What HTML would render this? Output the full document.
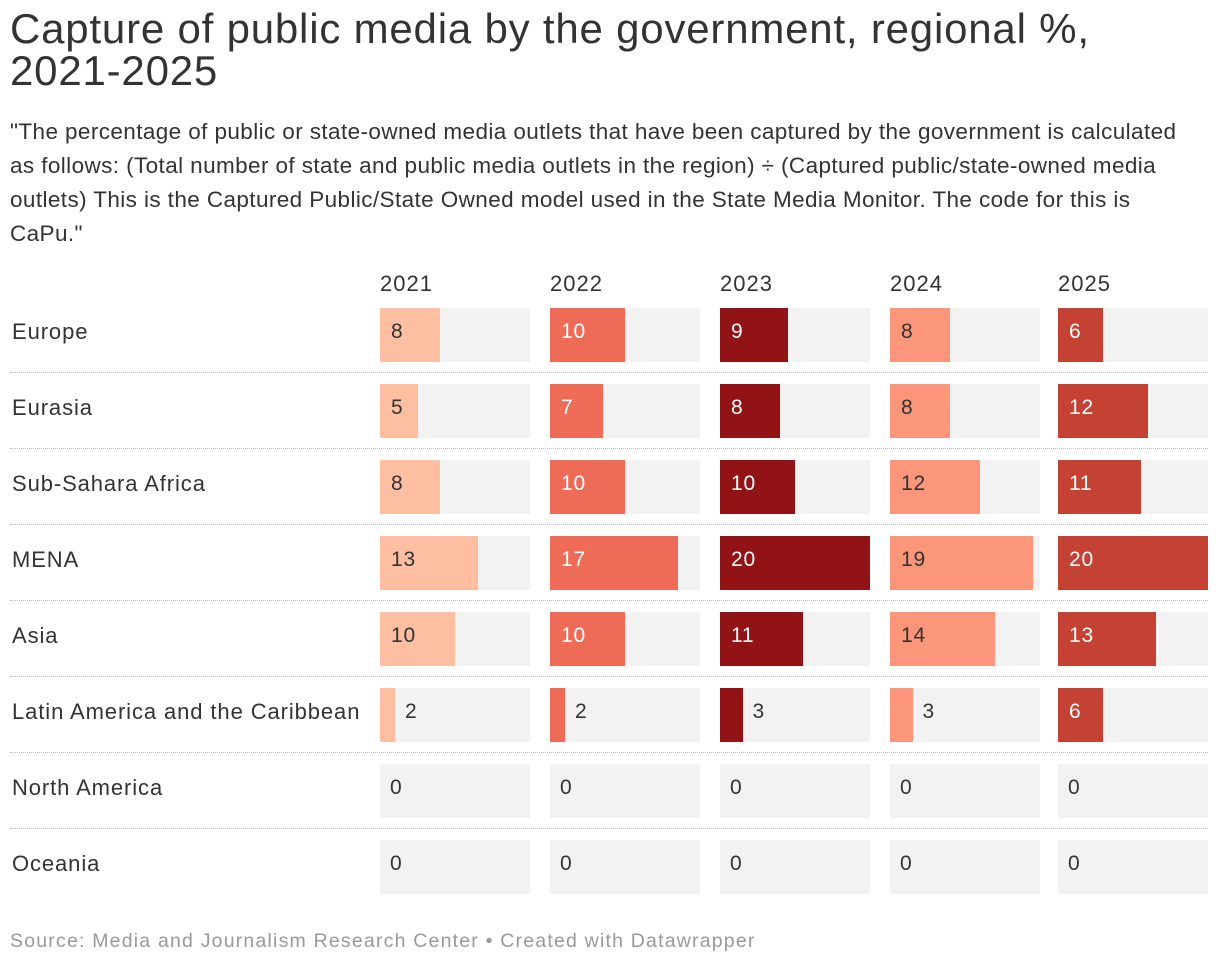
<!DOCTYPE html>
<html><head><meta charset="utf-8">
<style>
body{margin:0;width:1220px;height:968px;background:#fff;font-family:"Liberation Sans",Arial,sans-serif;color:#333;position:relative;overflow:hidden}
#title{position:absolute;left:10px;top:8px;font-size:42px;line-height:42px;letter-spacing:0.8px;color:#333;width:1120px}
#desc{position:absolute;left:10px;top:115px;font-size:22.5px;line-height:34px;letter-spacing:0.4px;color:#333;width:1210px;white-space:nowrap}
#chart{position:absolute;left:0;top:0;width:1220px;height:968px}
.a{position:absolute}
.src{position:absolute;left:10px;top:930px;font-size:19.5px;letter-spacing:1.2px;color:#999;white-space:nowrap}
</style></head><body>
<div id="title">Capture of public media by the government, regional %, 2021-2025</div>
<div id="desc">"The percentage of public or state-owned media outlets that have been captured by the government is calculated<br>as follows: (Total number of state and public media outlets in the region) ÷ (Captured public/state-owned media<br>outlets) This is the Captured Public/State Owned model used in the State Media Monitor. The code for this is<br>CaPu."</div>
<div id="chart"></div>
<div class="src">Source: Media and Journalism Research Center • Created with Datawrapper</div>
<script>
const regions=["Europe","Eurasia","Sub-Sahara Africa","MENA","Asia","Latin America and the Caribbean","North America","Oceania"];
const years=["2021","2022","2023","2024","2025"];
const v2021=[8,5,8,13,10,2,0,0];
const v2022=[10,7,10,17,10,2,0,0];
const v2023=[9,8,10,20,11,3,0,0];
const v2024=[8,8,12,19,14,3,0,0];
const v2025=[6,12,11,20,13,6,0,0];
const series=[v2021,v2022,v2023,v2024,v2025];
const colors=["#fdbea2","#ee6b58","#921316","#fc967a","#c44233"];
const textCol=["#333","#fff","#fff","#333","#fff"];
const maxV=20;
const c=document.getElementById('chart');
const colX=[380,550,720,890,1058], colW=150, top0=308, rowH=76, barH=54;
function xs(v){return v/maxV*colW;}
function mk(cls,css,txt){const d=document.createElement('div');d.className='a';Object.assign(d.style,css);if(txt!==undefined)d.textContent=txt;c.appendChild(d);return d;}
years.forEach((y,j)=>{
 const h=mk('a',{left:colX[j]+'px',top:'271px',fontSize:'22px',letterSpacing:'1px'},y);
 
 
});
regions.forEach((r,i)=>{
 const yt=top0+i*rowH;
 const l=mk('a',{left:'12px',top:(yt+11)+'px',fontSize:'22px',letterSpacing:'0.9px',whiteSpace:'nowrap'},r);
 
 
 if(i<regions.length-1){
  const s=mk('a',{left:'10px',top:(yt+64)+'px',width:'1198px',height:'0',borderTop:'1px dotted #bbb'});
  
  
 }
 series.forEach((vals,j)=>{
  const v=vals[i];
  const bg=mk('a',{left:colX[j]+'px',top:yt+'px',width:colW+'px',height:barH+'px',background:'#f2f2f2'});
  
  
  const w=xs(v);
  const b=mk('a',{left:colX[j]+'px',top:yt+'px',width:w+'px',height:barH+'px',background:colors[j]});
  
  
  const inside=w>=30;
  const t=mk('a',{left:(inside?colX[j]+11:colX[j]+w+10)+'px',top:(yt+12)+'px',fontSize:'21px',letterSpacing:'0.8px',color:inside?textCol[j]:'#333'},String(v));
  
  
 });
});
</script>
</body></html>
